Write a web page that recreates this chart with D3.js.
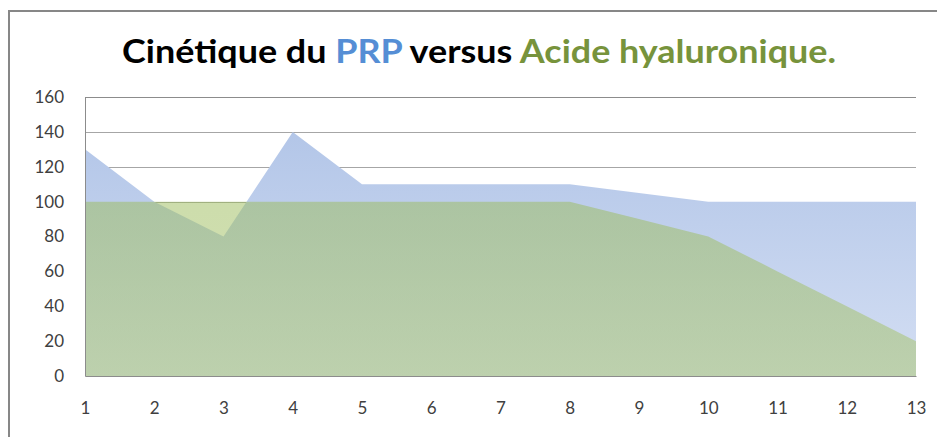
<!DOCTYPE html>
<html lang="fr">
<head>
    <meta charset="UTF-8">
    <title>Cinétique du PRP versus Acide hyaluronique</title>
    <script src="https://d3js.org/d3.v7.min.js"></script>
    <style>
        body { margin: 0; background: #fff; }
        svg { display: block; }
        .tick-label { font-family: Lato, "Open Sans", sans-serif; font-size: 17px; fill: #404040; }
    </style>
</head>
<body>
    <div id="chart"></div>

    <script>
        // Data
        const categories = [1, 2, 3, 4, 5, 6, 7, 8, 9, 10, 11, 12, 13];
        const prpValues = [130, 100, 80, 140, 110, 110, 110, 110, 105, 100, 100, 100, 100];
        const acideValues = [100, 100, 100, 100, 100, 100, 100, 100, 90, 80, 60, 40, 20];
        const yTicks = [0, 20, 40, 60, 80, 100, 120, 140, 160];

        const width = 937, height = 437;
        const margin = {top: 97, right: 21, bottom: 61, left: 85};

        const svg = d3.select('#chart').append('svg')
            .attr('width', width)
            .attr('height', height);

        // chart frame (runs off the right and bottom edges)
        svg.append('rect')
            .attr('x', 9).attr('y', 11)
            .attr('width', 940).attr('height', 440)
            .attr('fill', 'none')
            .attr('stroke', '#878787')
            .attr('stroke-width', 2);

        // title with coloured words
        const title = svg.append('text')
            .attr('x', 479).attr('y', 63)
            .attr('text-anchor', 'middle')
            .attr('font-family', 'Lato, "Open Sans", sans-serif')
            .attr('font-weight', 'bold')
            .attr('font-size', 33)
            .attr('textLength', 714)
            .attr('lengthAdjust', 'spacingAndGlyphs');
        title.append('tspan').attr('fill', '#000').text('Cinétique du ');
        title.append('tspan').attr('fill', '#558ed5').text('PRP');
        title.append('tspan').attr('fill', '#000').text(' versus ');
        title.append('tspan').attr('fill', '#77933c').text('Acide hyaluronique.');

        const x = d3.scalePoint()
            .domain(categories)
            .range([margin.left, width - margin.right]);

        const y = d3.scaleLinear()
            .domain([0, 160])
            .range([height - margin.bottom, margin.top]);

        // gradients
        const defs = svg.append('defs');
        const blueGrad = defs.append('linearGradient')
            .attr('id', 'blueGrad')
            .attr('gradientUnits', 'userSpaceOnUse')
            .attr('x1', 0).attr('x2', 0)
            .attr('y1', y(140)).attr('y2', y(0));
        blueGrad.append('stop').attr('offset', 0).attr('stop-color', '#b3c6e8');
        blueGrad.append('stop').attr('offset', 1).attr('stop-color', '#d3def3');

        const greenGrad = defs.append('linearGradient')
            .attr('id', 'greenGrad')
            .attr('gradientUnits', 'userSpaceOnUse')
            .attr('x1', 0).attr('x2', 0)
            .attr('y1', y(100)).attr('y2', y(0));
        greenGrad.append('stop').attr('offset', 0).attr('stop-color', '#9bbb59');
        greenGrad.append('stop').attr('offset', 1).attr('stop-color', '#a7c368');

        // gridlines
        svg.append('g')
            .selectAll('line')
            .data(yTicks.filter(d => d > 0))
            .join('line')
            .attr('x1', margin.left).attr('x2', width - margin.right)
            .attr('y1', d => Math.round(y(d)) + 0.5).attr('y2', d => Math.round(y(d)) + 0.5)
            .attr('stroke', d => d === 160 ? '#8c8c8c' : '#a6a6a6')
            .attr('stroke-width', 1);

        const area = values => d3.area()
            .x((d, i) => x(categories[i]))
            .y0(y(0))
            .y1(d => y(d))(values);

        svg.append('path')
            .attr('d', area(prpValues))
            .attr('fill', 'url(#blueGrad)');

        svg.append('path')
            .attr('d', area(acideValues))
            .attr('fill', 'url(#greenGrad)')
            .attr('fill-opacity', 0.5);

        // axes
        const yAxis = svg.append('g')
            .attr('transform', `translate(${margin.left},0)`)
            .call(d3.axisLeft(y).tickValues(yTicks).tickSize(0).tickPadding(21));
        yAxis.select('.domain').attr('stroke', '#8c8c8c');
        yAxis.selectAll('text').attr('class', 'tick-label').attr('font-size', null).attr('font-family', null).attr('fill', null);

        const xAxis = svg.append('g')
            .attr('transform', `translate(0,${y(0)})`)
            .call(d3.axisBottom(x).tickSize(0).tickPadding(26));
        xAxis.select('.domain').attr('stroke', '#8c8c8c');
        xAxis.selectAll('text').attr('class', 'tick-label').attr('font-size', null).attr('font-family', null).attr('fill', null);
    </script>
</body>
</html>
